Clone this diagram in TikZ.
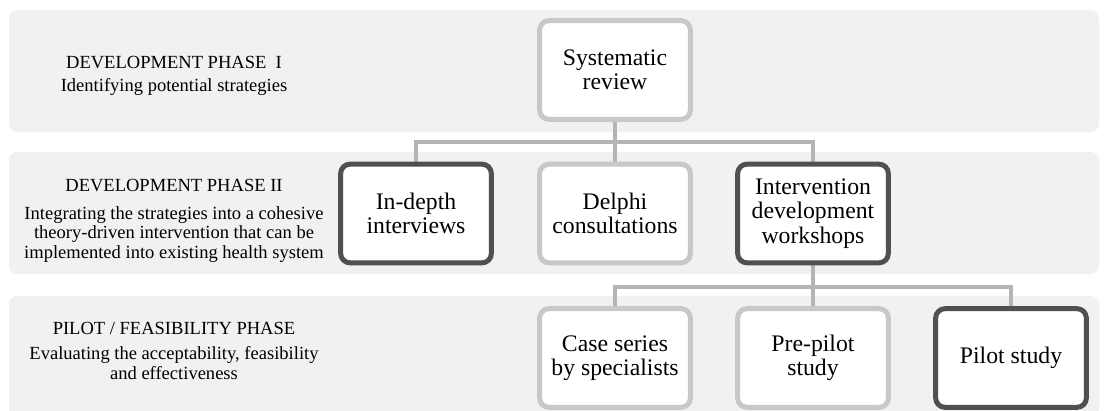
\documentclass[tikz,border=0pt]{standalone}
\usepackage{fontspec}
\setmainfont{Liberation Serif}
\definecolor{bandgray}{HTML}{F1F1F1}
\definecolor{boxlight}{HTML}{C8C8C8}
\definecolor{boxdark}{HTML}{505050}
\definecolor{linkgray}{HTML}{B4B4B4}
\pgfdeclarelayer{bands}
\pgfdeclarelayer{links}
\pgfsetlayers{bands,links,main}
\begin{document}
\begin{tikzpicture}[x=0.75pt,y=-0.75pt,
  band/.style={fill=bandgray, rounded corners=6pt},
  stepbox/.style={draw, fill=white, line width=3.75pt, rounded corners=7pt,
    minimum width=113pt, minimum height=74pt, inner sep=0pt, align=center,
    font=\fontsize{17.8}{18.3}\selectfont},
  lightbox/.style={stepbox, draw=boxlight},
  darkbox/.style={stepbox, draw=boxdark},
  link/.style={draw=linkgray, line width=3.6pt},
  phase/.style={align=center, font=\fontsize{13.9}{14.6}\selectfont}
]
\useasboundingbox (0,0) rectangle (1105,410);
\clip (0,0) rectangle (1105,410);

% phase bands
\begin{pgfonlayer}{bands}
  \path[band] (9,10) rectangle (1099,132);
  \path[band] (9,152) rectangle (1099,274);
  \path[band] (9,296) rectangle (1099,418);
\end{pgfonlayer}

% phase descriptions
\node[phase] (ph1) at (174,76) {DEVELOPMENT PHASE\ \ I\\[3pt] Identifying potential strategies};
\node[phase] (ph2) at (174,221) {DEVELOPMENT PHASE II\\[6pt] Integrating the strategies into a cohesive\\ theory-driven intervention that can be\\ implemented into existing health system};
\node[phase] (ph3) at (174,351) {PILOT / FEASIBILITY PHASE\\[4pt] Evaluating the acceptability, feasibility\\ and effectiveness};

% study steps
\node[lightbox] (sr)  at (615,70)    {Systematic\\review};
\node[darkbox]  (idi) at (416,213.5) {In-depth\\interviews};
\node[lightbox] (dc)  at (615,213.5) {Delphi\\consultations};
\node[darkbox]  (idw) at (813,213.5) {Intervention\\development\\workshops};
\node[lightbox] (cs)  at (615,358)   {Case series\\by specialists};
\node[lightbox] (pp)  at (813,358)   {Pre-pilot\\study};
\node[darkbox]  (ps)  at (1011,358)  {Pilot study};

% tree connectors
\coordinate (j1) at (615,142);
\coordinate (j2) at (813,287);
\begin{pgfonlayer}{links}
  \draw[link] (sr.south) -- (j1);
  \draw[link] (j1) -| (idi.north);
  \draw[link] (j1) -- (dc.north);
  \draw[link] (j1) -| (idw.north);
  \draw[link] (idw.south) -- (j2);
  \draw[link] (j2) -| (cs.north);
  \draw[link] (j2) -- (pp.north);
  \draw[link] (j2) -| (ps.north);
\end{pgfonlayer}
\end{tikzpicture}
\end{document}
